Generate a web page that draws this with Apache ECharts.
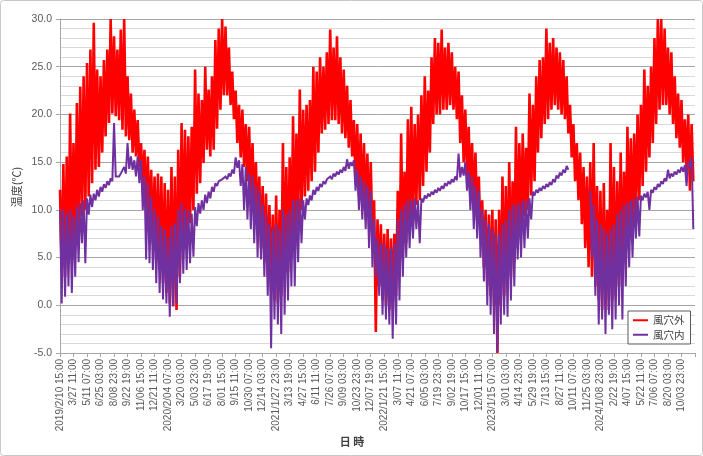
<!DOCTYPE html>
<html>
<head>
<meta charset="utf-8">
<script src="https://cdn.jsdelivr.net/npm/echarts@6/dist/echarts.min.js"></script>
<style>
html,body{margin:0;padding:0;background:#fff;}
#chart{width:703px;height:456px;}
</style>
</head>
<body>
<div id="chart"></div>
<script>
// Tick labels (one every 1076 hours)
const labels = ["2019/2/10 15:00","3/27 11:00","5/11 07:00","6/25 03:00","8/08 23:00","9/22 19:00","11/06 15:00","12/21 11:00",
"2020/2/04 07:00","3/20 03:00","5/03 23:00","6/17 19:00","8/01 15:00","9/15 11:00","10/30 07:00","12/14 03:00",
"2021/1/27 23:00","3/13 19:00","4/27 15:00","6/11 11:00","7/26 07:00","9/09 03:00","10/23 23:00","12/07 19:00",
"2022/1/21 15:00","3/07 11:00","4/21 07:00","6/05 03:00","7/19 23:00","9/02 19:00","10/17 15:00","12/01 11:00",
"2023/1/15 07:00","3/01 03:00","4/14 23:00","5/29 19:00","7/13 15:00","8/27 11:00","10/11 07:00","11/25 03:00",
"2024/1/08 23:00","2/22 19:00","4/07 15:00","5/22 11:00","7/06 07:00","8/20 03:00","10/03 23:00"];
// samples every 269 h (4 per tick); envelope highs / lows
const outHi = [12.1,14.8,15.6,20.1,17.0,21.2,22.9,24.0,25.4,26.8,29.6,24.7,24.0,25.7,26.8,30.0,28.2,26.8,28.9,30.0,
24.0,22.2,20.5,19.4,17.0,16.3,15.6,14.2,13.5,13.8,13.5,12.8,12.1,14.5,13.5,16.3,19.1,18.4,17.7,18.7,
24.7,22.2,21.5,25.0,22.6,24.0,27.8,29.0,30.0,29.2,27.0,24.5,22.5,21.0,20.5,19.0,18.7,17.0,15.0,13.5,
12.5,11.7,10.5,9.5,11.5,10.0,17.0,14.5,15.5,19.8,18.0,22.6,20.5,21.0,21.5,25.0,24.5,26.0,25.0,26.5,
28.9,27.0,28.2,26.0,24.7,23.0,21.5,19.4,19.0,18.0,17.0,15.9,15.0,11.0,9.0,8.5,7.5,8.0,7.0,7.5,
12.0,18.0,14.0,19.5,20.8,19.0,20.0,22.0,24.0,22.5,26.0,28.0,27.5,28.9,27.0,27.5,26.5,25.0,24.5,22.0,
20.5,18.7,17.0,16.0,13.5,11.0,10.0,9.5,10.0,9.0,10.0,13.5,12.5,15.0,13.0,18.7,17.0,18.0,16.5,22.2,
21.0,24.0,25.7,26.0,29.0,27.5,28.0,27.0,26.5,25.7,24.0,21.0,19.0,17.0,16.0,14.5,13.5,15.0,17.0,12.5,
12.0,12.8,10.0,17.0,14.5,13.0,16.0,14.0,18.7,17.5,18.0,20.0,21.0,24.7,23.0,25.0,28.0,30.0,30.0,29.0,
27.0,26.5,24.0,22.2,21.5,19.5,20.0,19.0];
const outLo = [3.7,3.0,4.5,5.8,6.5,7.9,9.3,10.0,11.4,12.8,14.2,14.5,16.0,17.7,19.1,20.1,19.8,19.4,18.4,17.7,
17.3,16.0,15.6,14.5,12.0,10.0,8.3,6.5,4.8,3.7,2.3,1.3,0.2,-0.1,-0.5,3.0,5.8,7.2,8.6,10.0,
11.7,12.8,14.9,16.3,15.6,16.3,18.5,20.5,22.0,22.0,21.0,19.5,17.0,15.5,14.5,13.0,11.0,10.0,8.0,6.0,
4.5,3.0,1.5,0.5,0.2,1.0,3.0,3.5,5.0,6.5,8.3,10.0,11.4,12.0,13.0,14.0,16.0,18.0,18.4,19.0,
19.4,19.4,19.0,18.0,17.5,16.5,15.6,13.0,11.5,10.0,9.0,8.0,7.0,-2.8,2.0,0.5,0.0,-0.5,0.5,1.0,
3.0,5.0,6.5,8.0,9.0,10.5,11.0,12.5,14.0,16.0,19.0,20.0,20.0,20.5,20.5,21.0,20.5,19.5,17.0,15.0,
13.5,12.0,10.0,9.0,7.0,4.0,2.0,1.0,0.0,-5.0,0.0,1.0,2.0,3.0,4.5,6.0,8.0,9.3,10.0,11.5,
13.0,16.0,17.5,19.0,19.5,20.5,21.0,20.5,20.0,19.5,18.0,15.5,13.0,11.0,8.5,6.0,4.0,3.0,2.0,0.5,
-0.5,0.0,-0.5,0.5,1.0,2.0,3.0,5.0,7.0,8.5,9.5,11.0,12.5,14.0,15.5,17.0,19.0,20.5,21.0,21.0,
20.0,19.0,17.5,16.5,15.0,14.0,12.0,13.0];
const inHi = [10.0,10.0,9.6,10.0,9.3,10.3,10.7,11.0,11.2,11.6,11.7,12.1,12.4,12.7,13.0,13.3,19.1,13.7,13.8,14.5,
17.0,15.6,15.2,15.6,15.2,13.5,12.8,11.4,10.0,9.3,8.3,7.9,7.2,8.3,8.6,10.0,10.7,10.0,10.0,9.6,
10.3,10.7,11.0,11.6,11.9,12.4,12.8,13.0,13.2,13.5,13.8,14.2,15.5,15.2,14.8,14.5,13.8,13.5,12.5,12.0,
10.5,9.5,8.5,8.0,8.5,8.0,10.0,9.5,10.0,11.0,11.0,11.2,11.0,11.2,11.5,12.1,12.4,12.7,13.0,13.2,
13.5,13.8,14.0,14.2,14.5,15.3,15.0,15.2,14.2,13.5,13.0,12.5,12.0,9.0,7.0,6.5,6.5,6.0,6.0,6.5,
9.0,10.0,10.5,11.0,11.0,11.2,11.0,11.2,11.5,11.7,11.9,12.1,12.3,12.5,12.8,13.0,13.2,13.5,15.9,14.5,
15.0,14.0,13.5,12.5,12.0,10.0,9.0,8.5,8.0,7.5,7.5,8.5,9.0,10.0,10.5,10.5,10.7,11.0,11.0,11.2,
11.9,12.1,12.3,12.5,12.7,12.9,13.2,13.6,13.9,14.2,14.6,null,null,null,null,null,null,12.0,10.5,9.0,
8.5,8.0,7.5,8.0,8.5,9.5,10.0,10.5,10.8,11.0,11.2,11.4,11.5,11.7,11.9,12.1,12.4,12.7,13.0,13.3,
14.2,13.8,14.0,14.2,14.5,14.7,15.0,15.5];
const inLo = [0.2,0.9,2.0,1.3,3.0,4.5,6.5,4.4,9.5,10.3,11.0,11.4,11.9,12.3,12.6,13.0,13.5,13.5,13.7,13.8,
14.3,14.2,13.5,12.8,10.0,4.8,4.4,3.7,2.3,1.3,0.6,0.2,-1.2,-0.1,0.2,2.3,3.3,3.7,4.4,5.1,
8.3,9.6,10.0,10.7,11.2,11.9,12.5,12.8,13.0,13.2,13.5,13.8,14.4,12.5,10.0,9.0,8.0,6.5,5.0,4.8,
3.0,1.0,-4.5,-1.5,-2.0,-3.0,-1.0,0.5,2.0,2.0,4.5,6.5,9.0,10.5,11.0,11.6,12.0,12.4,12.7,13.0,
13.2,13.5,13.7,13.9,14.1,14.3,14.6,12.0,10.0,9.0,8.0,6.0,4.0,3.0,1.0,-1.0,-1.5,-2.0,-3.5,-2.0,
0.5,3.0,5.0,6.0,7.0,8.0,6.5,10.8,11.2,11.4,11.6,11.8,12.0,12.2,12.5,12.7,12.9,13.1,13.4,13.6,
12.0,10.0,8.0,7.0,5.0,2.5,0.0,-1.0,-3.0,-4.9,-2.0,-1.0,-1.2,0.5,2.0,4.8,5.0,6.0,7.0,9.0,
11.5,11.8,12.0,12.2,12.4,12.6,12.9,13.3,13.6,13.9,14.2,null,null,null,null,null,null,5.0,1.0,-2.0,
-1.5,-3.0,-1.0,-2.5,-1.5,0.0,-1.5,2.0,4.0,5.0,7.0,7.2,11.0,11.3,10.0,11.8,12.1,12.4,12.7,13.0,
13.3,13.5,13.7,13.9,14.0,12.5,14.5,8.0];

// hourly record drawn as alternating high / low of each sample
function zig(hi, lo) {
  const d = [];
  for (let i = 0; i < hi.length; i++) {
    d.push([i, hi[i] == null ? '-' : hi[i]]);
    d.push([i + 0.5, lo[i] == null ? '-' : lo[i]]);
  }
  return d;
}

const FONT = "'Liberation Sans','Noto Sans CJK JP',sans-serif";
const chart = echarts.init(document.getElementById('chart'), null, {renderer: 'canvas'});
chart.setOption({
  animation: false,
  backgroundColor: '#fff',
  textStyle: {fontFamily: FONT},
  grid: {left: 60, right: 8, top: 19, bottom: 103},
  legend: {
    orient: 'vertical', left: 628, top: 311,
    padding: [4, 6, 4, 5], itemGap: 4,
    backgroundColor: '#fff', borderColor: '#595959', borderWidth: 1,
    icon: 'rect', itemWidth: 15, itemHeight: 2,
    textStyle: {fontFamily: "'Noto Sans CJK JP',sans-serif", fontSize: 10.5, color: '#404040'},
    data: ['風穴外', '風穴内']
  },
  xAxis: {
    type: 'value', min: 0, max: 188, interval: 4,
    axisLine: {show: true, onZero: false, lineStyle: {color: '#a6a6a6'}},
    axisTick: {show: true, length: 4, lineStyle: {color: '#a6a6a6'}},
    splitLine: {show: false},
    axisLabel: {
      rotate: 90, margin: 6, fontSize: 10, color: '#595959', fontFamily: FONT,
      showMinLabel: true, showMaxLabel: true,
      formatter: function (v) { const k = Math.round(v / 4); return labels[k] || ''; }
    }
  },
  yAxis: {
    type: 'value', min: -5, max: 30, interval: 5,
    axisLine: {show: true, onZero: false, lineStyle: {color: '#a6a6a6'}},
    axisTick: {show: true, length: 4, lineStyle: {color: '#a6a6a6'}},
    splitLine: {show: true, lineStyle: {color: '#a6a6a6', width: 1}},
    minorTick: {show: false, splitNumber: 5},
    minorSplitLine: {show: true, lineStyle: {color: '#d9d9d9', width: 1}},
    axisLabel: {margin: 8, fontSize: 10.5, color: '#595959', fontFamily: FONT,
      formatter: function (v) { return v.toFixed(1); }}
  },
  series: [
    {name: '風穴外', type: 'line', data: zig(outHi, outLo), showSymbol: false, symbol: 'none',
     lineStyle: {color: '#ff0000', width: 2.6, join: 'miter', miterLimit: 2}, itemStyle: {color: '#ff0000'}, connectNulls: false},
    {name: '風穴内', type: 'line', data: zig(inHi, inLo), showSymbol: false, symbol: 'none',
     lineStyle: {color: '#7030a0', width: 2.0, join: 'miter', miterLimit: 2}, itemStyle: {color: '#7030a0'}, connectNulls: false}
  ],
  graphic: [
    {type: 'rect', silent: true, z: -1, shape: {x: 0.5, y: 0.5, width: 702, height: 455, r: 3},
     style: {fill: 'none', stroke: '#c8c8c8', lineWidth: 1}},
    {type: 'text', x: 17, y: 187, rotation: Math.PI / 2,
     style: {text: '温度(℃)', fontSize: 11, fill: '#404040', fontFamily: "'Noto Sans CJK JP',sans-serif",
       textAlign: 'center', textVerticalAlign: 'middle'}},
    {type: 'text', x: 352, y: 442,
     style: {text: '日 時', fontSize: 11, fontWeight: 'bold', fill: '#404040', fontFamily: "'Noto Sans CJK JP',sans-serif",
       textAlign: 'center', textVerticalAlign: 'middle'}}
  ]
});
</script>
</body>
</html>
